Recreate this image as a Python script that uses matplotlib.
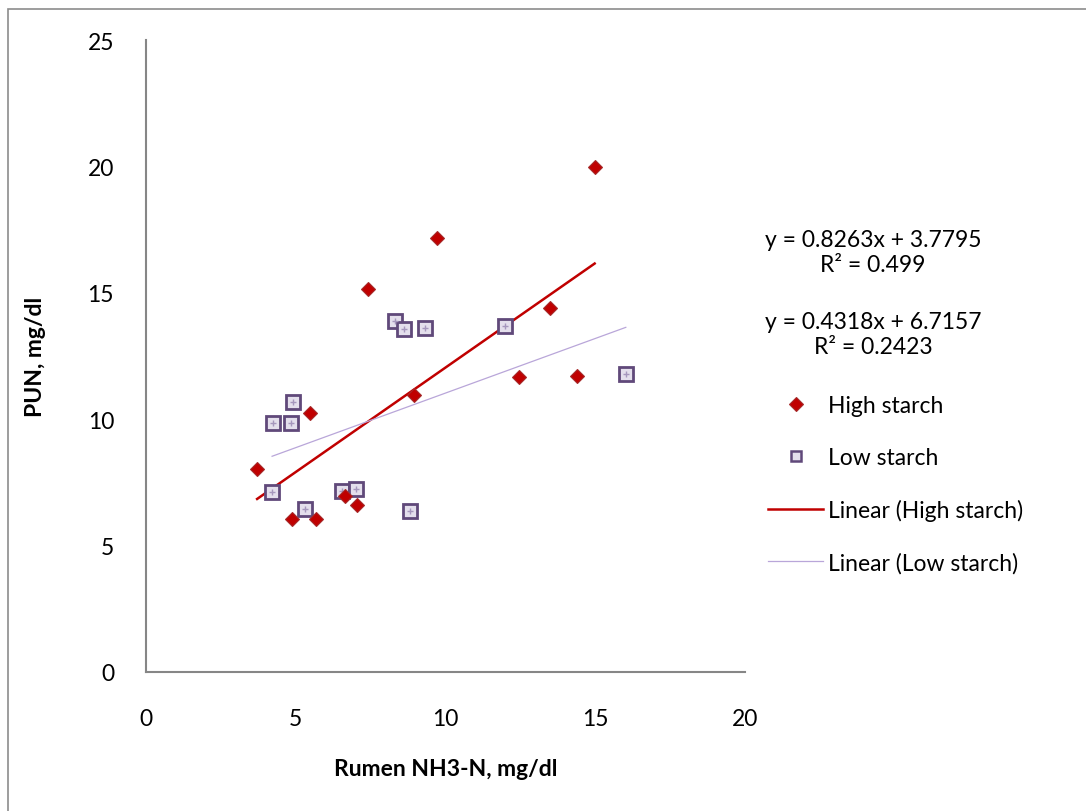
import matplotlib
matplotlib.use("Agg")
import matplotlib.pyplot as plt
from matplotlib.lines import Line2D
from matplotlib.patches import Rectangle
import numpy as np

plt.rcParams['font.family'] = ['Lato', 'DejaVu Sans']

# Data
high_x = [3.71, 4.88, 5.48, 5.69, 6.66, 7.06, 7.42, 8.96, 9.73, 12.47, 13.48, 14.38, 14.98]
high_y = [8.03, 6.05, 10.25, 6.05, 6.96, 6.61, 15.15, 10.96, 17.17, 11.67, 14.38, 11.71, 19.98]
low_x = [4.21, 4.25, 4.85, 4.92, 5.32, 6.56, 7.02, 8.33, 8.60, 8.83, 9.30, 12.00, 16.02]
low_y = [7.12, 9.85, 9.85, 10.68, 6.45, 7.16, 7.24, 13.88, 13.57, 6.37, 13.61, 13.69, 11.79]
high_fit = [0.8263, 3.7795]
low_fit = [0.4318, 6.7157]
eq_texts = ["y = 0.8263x + 3.7795\nR² = 0.499", "y = 0.4318x + 6.7157\nR² = 0.2423"]
x_ticks = [0, 5, 10, 15, 20]
y_ticks = [0, 5, 10, 15, 20, 25]

FS = 16.5
fig = plt.figure(figsize=(10.86, 8.12), dpi=100)
ax = fig.add_axes([146/1086, 1-673/812, (745-146)/1086, (673-41)/812])

red = '#C00000'
purple = '#60497A'
lav = '#B9A6D9'

hx = np.array([min(high_x), max(high_x)])
lx = np.array([min(low_x), max(low_x)])
ax.plot(hx, high_fit[0]*hx + high_fit[1], color=red, lw=1.8, zorder=3)
ax.plot(lx, low_fit[0]*lx + low_fit[1], color=lav, lw=0.9, zorder=3)

ax.plot(low_x, low_y, ls='none', marker='s', ms=9.5, mfc='#E4DFEC', mec=purple, mew=2.0, zorder=4)
ax.plot(low_x, low_y, ls='none', marker='+', ms=5, mec='#A697BD', mew=1.0, zorder=5)
ax.plot(high_x, high_y, ls='none', marker='D', ms=7.5, mfc=red, mec='#A52A2A', mew=0.8, zorder=6)

ax.set_xlim(0, 20)
ax.set_ylim(0, 25)
ax.set_xticks(x_ticks)
ax.set_yticks(y_ticks)
ax.tick_params(length=0, labelsize=FS)
ax.tick_params(axis='x', pad=26)
ax.tick_params(axis='y', pad=23)
for s in ['top', 'right']:
    ax.spines[s].set_visible(False)
for s in ['left', 'bottom']:
    ax.spines[s].set_color('#868686')
    ax.spines[s].set_linewidth(1.5)

ax.set_xlabel('Rumen NH3-N, mg/dl', fontsize=FS, fontweight='bold', labelpad=21)
ax.set_ylabel('PUN, mg/dl', fontsize=FS, fontweight='bold', labelpad=30)

fig.text(873/1086, 1-253/812, eq_texts[0], ha='center', va='center', fontsize=FS, linespacing=1.2)
fig.text(873/1086, 1-335/812, eq_texts[1], ha='center', va='center', fontsize=FS, linespacing=1.2)

handles = [
    Line2D([], [], ls='none', marker='D', ms=7, mfc=red, mec='#A52A2A', mew=0.8),
    Line2D([], [], ls='none', marker='s', ms=7, mfc='#E4DFEC', mec=purple, mew=1.8),
    Line2D([], [], color=red, lw=1.8),
    Line2D([], [], color=lav, lw=0.9),
]
labels = ['High starch', 'Low starch', 'Linear (High starch)', 'Linear (Low starch)']
fig.legend(handles, labels, loc='upper left', bbox_to_anchor=(768/1086, 1-396/812),
           frameon=False, fontsize=FS, handlelength=2.4, handletextpad=0.2,
           labelspacing=1.35, borderaxespad=0, borderpad=0)

fig.patches.append(Rectangle((8/1086, -0.1), 1.2, (1-10/812)+0.1, transform=fig.transFigure,
                             fill=False, ec='#8C8C8C', lw=1.2))

fig.savefig('out.png', dpi=100)
